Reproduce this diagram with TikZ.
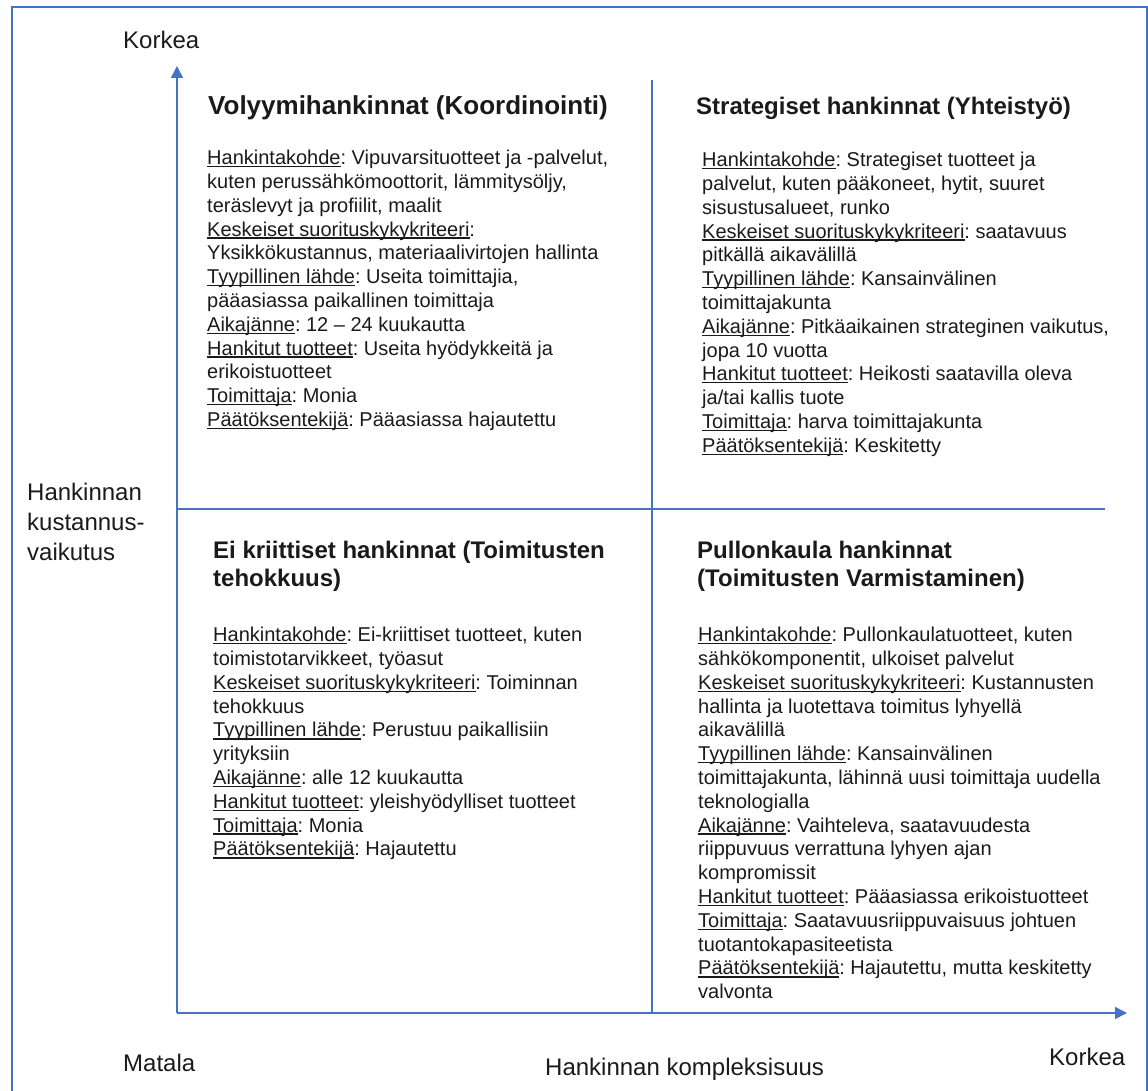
\documentclass[tikz,border=0pt]{standalone}
\usepackage{fontspec}
\setmainfont{Liberation Sans}
\usetikzlibrary{arrows.meta}
\definecolor{axisblue}{HTML}{4472C4}
\definecolor{ink}{HTML}{1A1A1A}
\frenchspacing
% underlined field label, rule at a fixed depth like a word processor
\newcommand\fld[1]{\setbox0=\hbox{#1}\rlap{\rule[-0.13em]{\wd0}{0.065em}}\box0}
\begin{document}
\begin{tikzpicture}[x=1pt,y=-1pt,
  rule/.style={draw=axisblue,line width=1.5pt},
  axis/.style={rule,-{Triangle[width=12pt,length=12pt]}},
  body/.style={inner sep=0pt,anchor=north west,align=left,text=ink,
    font=\fontsize{20pt}{23.8pt}\selectfont},
  head/.style={inner sep=0pt,anchor=north west,align=left,text=ink,
    font=\fontsize{24pt}{28pt}\selectfont\bfseries},
  lbl/.style={inner sep=0pt,anchor=base west,text=ink,
    font=\fontsize{24pt}{30pt}\selectfont}]
\useasboundingbox (0,0) rectangle (1148,1091);
% frame
\draw[draw=axisblue,line width=1.5pt] (12,1120) -- (12,7) -- (1147,7) -- (1147,1120);

% axes and quadrant dividers
\coordinate (o) at (177,1013);
\coordinate (ytip) at (177,66);
\coordinate (xtip) at (1127,1013);
\coordinate (vtop) at (652,80);
\coordinate (vbot) at (652,1013);
\coordinate (hl) at (177,509);
\coordinate (hr) at (1105,509);
\draw[rule] (vtop) -- (vbot);
\draw[rule] (hl) -- (hr);
\draw[axis] (o) -- (ytip);
\draw[axis] (o) -- (xtip);

% axis labels
\node[lbl] (yhigh) at (123,49) {Korkea};
\node[lbl] (xlow) at (123,1071) {Matala};
\node[lbl] (xhigh) at (1049,1065) {Korkea};
\node[lbl] (xname) at (545,1075) {Hankinnan kompleksisuus};
\node[lbl,anchor=north west,align=left] (yname) at (27,482.5)
  {Hankinnan\\kustannus-\\vaikutus};

% top left quadrant
\node[head,anchor=base west,font=\fontsize{26pt}{30pt}\selectfont\bfseries] (tlh) at (208,115) {Volyymihankinnat (Koordinointi)};
\node[body] (tlb) at (207,150) {%
\fld{Hankintakohde}: Vipuvarsituotteet ja -palvelut,\\
kuten perussähkömoottorit, lämmitysöljy,\\
teräslevyt ja profiilit, maalit\\
\fld{Keskeiset suorituskykykriteeri}:\\
Yksikkökustannus, materiaalivirtojen hallinta\\
\fld{Tyypillinen lähde}: Useita toimittajia,\\
pääasiassa paikallinen toimittaja\\
\fld{Aikajänne}: 12 – 24 kuukautta\\
\fld{Hankitut tuotteet}: Useita hyödykkeitä ja\\
erikoistuotteet\\
\fld{Toimittaja}: Monia\\
\fld{Päätöksentekijä}: Pääasiassa hajautettu};

% top right quadrant
\node[head,anchor=base west] (trh) at (696,115) {Strategiset hankinnat (Yhteistyö)};
\node[body] (trb) at (702,152) {%
\fld{Hankintakohde}: Strategiset tuotteet ja\\
palvelut, kuten pääkoneet, hytit, suuret\\
sisustusalueet, runko\\
\fld{Keskeiset suorituskykykriteeri}: saatavuus\\
pitkällä aikavälillä\\
\fld{Tyypillinen lähde}: Kansainvälinen\\
toimittajakunta\\
\fld{Aikajänne}: Pitkäaikainen strateginen vaikutus,\\
jopa 10 vuotta\\
\fld{Hankitut tuotteet}: Heikosti saatavilla oleva\\
ja/tai kallis tuote\\
\fld{Toimittaja}: harva toimittajakunta\\
\fld{Päätöksentekijä}: Keskitetty};

% bottom left quadrant
\node[head] (blh) at (213,540.5) {Ei kriittiset hankinnat (Toimitusten\\tehokkuus)};
\node[body] (blb) at (213,627) {%
\fld{Hankintakohde}: Ei-kriittiset tuotteet, kuten\\
toimistotarvikkeet, työasut\\
\fld{Keskeiset suorituskykykriteeri}: Toiminnan\\
tehokkuus\\
\fld{Tyypillinen lähde}: Perustuu paikallisiin\\
yrityksiin\\
\fld{Aikajänne}: alle 12 kuukautta\\
\fld{Hankitut tuotteet}: yleishyödylliset tuotteet\\
\fld{Toimittaja}: Monia\\
\fld{Päätöksentekijä}: Hajautettu};

% bottom right quadrant
\node[head] (brh) at (697,540.5) {Pullonkaula hankinnat\\(Toimitusten Varmistaminen)};
\node[body] (brb) at (698,627) {%
\fld{Hankintakohde}: Pullonkaulatuotteet, kuten\\
sähkökomponentit, ulkoiset palvelut\\
\fld{Keskeiset suorituskykykriteeri}: Kustannusten\\
hallinta ja luotettava toimitus lyhyellä\\
aikavälillä\\
\fld{Tyypillinen lähde}: Kansainvälinen\\
toimittajakunta, lähinnä uusi toimittaja uudella\\
teknologialla\\
\fld{Aikajänne}: Vaihteleva, saatavuudesta\\
riippuvuus verrattuna lyhyen ajan\\
kompromissit\\
\fld{Hankitut tuotteet}: Pääasiassa erikoistuotteet\\
\fld{Toimittaja}: Saatavuusriippuvaisuus johtuen\\
tuotantokapasiteetista\\
\fld{Päätöksentekijä}: Hajautettu, mutta keskitetty\\
valvonta};
\end{tikzpicture}
\end{document}
